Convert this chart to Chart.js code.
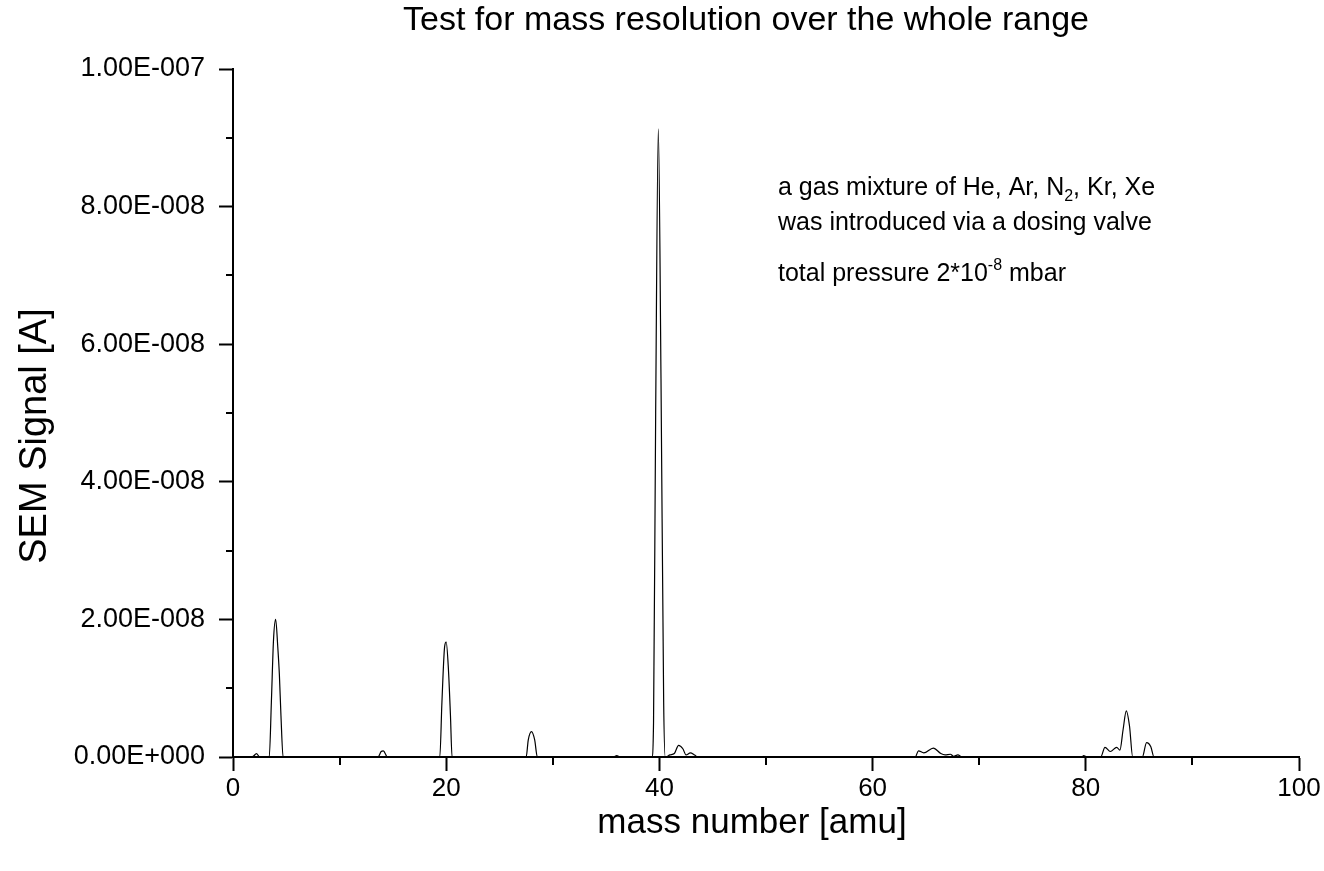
<!DOCTYPE html>
<html>
<head>
<meta charset="utf-8">
<script src="https://cdn.jsdelivr.net/npm/chart.js@4.4.1/dist/chart.umd.min.js"></script>
<style>
  body { margin: 0; background: #fff; }
  #wrap { width: 1324px; height: 871px; }
</style>
</head>
<body>
<div id="wrap"><canvas id="myChart"></canvas></div>
<script>
// mass number [amu] and SEM signal (in units of 1e-9 A)
var massAmu = [0.8, 1.5, 1.9, 2.2, 2.5, 3.4, 3.6, 3.8, 4.0, 4.2, 4.35, 4.5, 4.7,
  13.6, 13.9, 14.1, 14.5,
  19.4, 19.6, 19.85, 20.0, 20.2, 20.4, 20.55,
  27.5, 27.7, 28.0, 28.3, 28.55,
  35.7, 36.0, 36.3,
  39.3, 39.45, 39.65, 39.9, 40.15, 40.4, 40.55,
  41.0, 41.4, 41.8, 42.2, 42.5, 42.9, 43.3, 43.6,
  64.0, 64.3, 64.8, 65.7, 66.4, 66.8, 67.3, 67.6, 68.0, 68.4,
  79.6, 79.8, 80.1,
  81.4, 81.8, 82.3, 82.9, 83.2, 83.5, 83.8, 84.1, 84.4,
  85.3, 85.7, 86.1, 86.4, 99.5];
var signalNanoA = [0, 0, 0.1, 0.5, 0, 0, 8, 17, 20, 16, 12, 6, 0,
  0, 0.8, 0.9, 0,
  0, 8, 16, 16.7, 13, 6, 0,
  0, 2.5, 3.7, 2.5, 0,
  0, 0.2, 0,
  0, 5, 50, 91.3, 55, 8, 0,
  0.3, 0.5, 1.7, 1.2, 0.3, 0.6, 0.3, 0,
  0, 0.9, 0.6, 1.3, 0.5, 0.3, 0.4, 0.1, 0.3, 0,
  0, 0.2, 0,
  0, 1.4, 0.8, 1.4, 1.0, 4, 6.7, 4.5, 0,
  0, 2.1, 1.5, 0, 0];
var xMinorTicks = [10, 30, 50, 70, 90];
var yMinorTicks = [1e-8, 3e-8, 5e-8, 7e-8, 9e-8];

var points = massAmu.map(function (m, i) {
    return { x: m, y: signalNanoA[i] * 1e-9 };
});

var FONT = "'Liberation Sans', Arial, sans-serif";

function sciLabel(v) {
    if (Math.abs(v) < 1e-15) return "0.00E+000";
    var s = v.toExponential(2).split("e");
    var exp = parseInt(s[1], 10);
    var sign = exp < 0 ? "-" : "+";
    var e = String(Math.abs(exp));
    while (e.length < 3) e = "0" + e;
    return s[0] + "E" + sign + e;
}

var extras = {
    id: "extras",
    afterDraw: function (chart) {
        var ctx = chart.ctx;
        var xs = chart.scales.x, ys = chart.scales.y;
        var area = chart.chartArea;
        ctx.save();
        ctx.strokeStyle = "#000";
        ctx.lineWidth = 2;
        // minor ticks
        xMinorTicks.forEach(function (v) {
            var px = Math.round(xs.getPixelForValue(v));
            ctx.beginPath();
            ctx.moveTo(px, area.bottom);
            ctx.lineTo(px, area.bottom + 8);
            ctx.stroke();
        });
        yMinorTicks.forEach(function (v) {
            var py = Math.round(ys.getPixelForValue(v));
            ctx.beginPath();
            ctx.moveTo(area.left, py);
            ctx.lineTo(area.left - 7, py);
            ctx.stroke();
        });

        ctx.fillStyle = "#000";
        // titles
        ctx.textAlign = "center";
        ctx.textBaseline = "middle";
        ctx.font = "34px " + FONT;
        ctx.fillText("Test for mass resolution over the whole range", 746, 21);
        ctx.font = "35px " + FONT;
        ctx.fillText("mass number [amu]", 752, 823);
        ctx.save();
        ctx.translate(36, 436);
        ctx.rotate(-Math.PI / 2);
        ctx.font = "38px " + FONT;
        ctx.fillText("SEM Signal [A]", 0, 0);
        ctx.restore();

        // annotation
        ctx.textBaseline = "alphabetic";
        ctx.textAlign = "left";
        var x0 = area.left + 545;
        function run(parts, x, y) {
            parts.forEach(function (p) {
                ctx.font = (p.small ? "16px " : "25px ") + FONT;
                var dy = p.small === "sub" ? 6 : (p.small === "sup" ? -11 : 0);
                ctx.fillText(p.t, x, y + dy);
                x += ctx.measureText(p.t).width;
            });
        }
        run([{ t: "a gas mixture of He, Ar, N" }, { t: "2", small: "sub" }, { t: ", Kr, Xe" }], x0, 195);
        run([{ t: "was introduced via a dosing valve" }], x0, 230);
        run([{ t: "total pressure 2*10" }, { t: "-8", small: "sup" }, { t: " mbar" }], x0, 281);
        ctx.restore();
    }
};

new Chart("myChart", {
    type: "line",
    data: {
        datasets: [{
            data: points,
            borderColor: "#000",
            borderWidth: 1.2,
            pointRadius: 0,
            cubicInterpolationMode: "monotone",
            fill: false
        }]
    },
    options: {
        responsive: true,
        maintainAspectRatio: false,
        animation: false,
        layout: { padding: { left: 0, right: 25, top: 69, bottom: 0 } },
        plugins: {
            legend: { display: false },
            tooltip: { enabled: false },
            title: { display: false }
        },
        scales: {
            x: {
                type: "linear",
                min: 0,
                max: 100,
                afterFit: function (s) { s.height = 114; },
                border: { display: true, color: "#000", width: 2 },
                grid: { drawOnChartArea: false, drawTicks: true, tickLength: 14, tickWidth: 2, tickColor: "#000" },
                ticks: { stepSize: 20, color: "#000", padding: 2, maxRotation: 0,
                    font: { family: FONT, size: 26 } },
                title: { display: false }
            },
            y: {
                min: 0,
                max: 1e-7,
                afterFit: function (s) { s.width = 233; },
                border: { display: true, color: "#000", width: 2 },
                grid: { drawOnChartArea: false, drawTicks: true, tickLength: 14, tickWidth: 2, tickColor: "#000" },
                ticks: {
                    stepSize: 2e-8,
                    color: "#000",
                    padding: 14,
                    font: { family: FONT, size: 27 },
                    callback: function (v) { return sciLabel(v); }
                },
                title: { display: false }
            }
        }
    },
    plugins: [extras]
});
</script>
</body>
</html>
